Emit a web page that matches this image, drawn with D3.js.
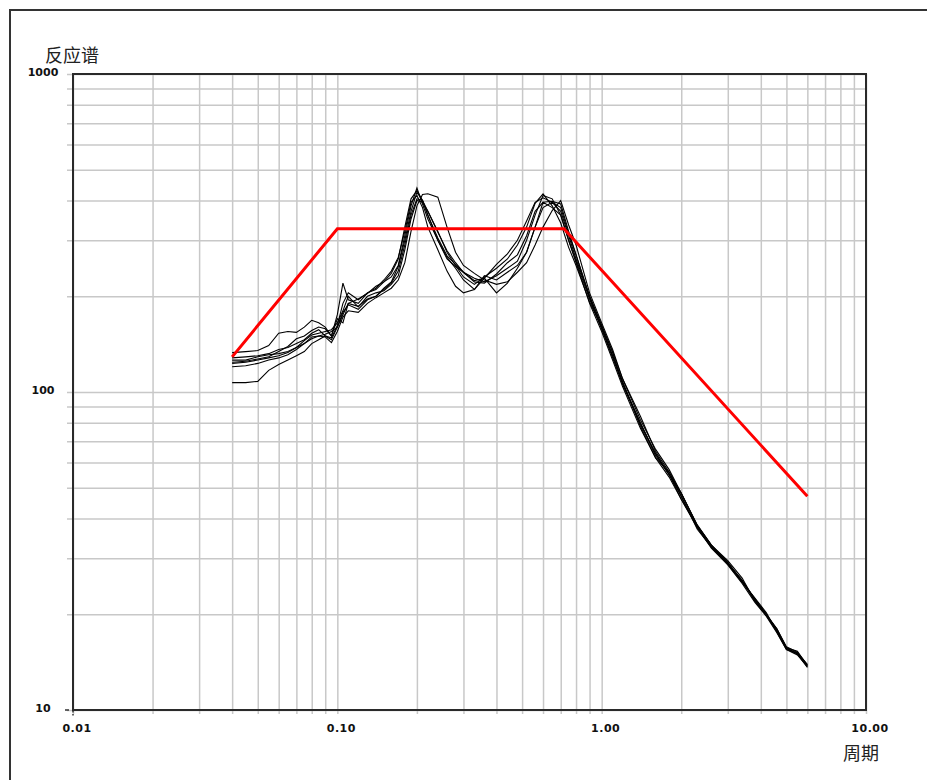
<!DOCTYPE html>
<html>
<head>
<meta charset="utf-8">
<script src="https://cdn.jsdelivr.net/npm/d3@7"></script>
<style>
    body { margin: 0; background: #fff; }
    .tick-label { font-family: "DejaVu Sans", Verdana, sans-serif; font-weight: bold; font-size: 11px; fill: #111; }
    .axis-title { font-family: "Noto Sans CJK SC", sans-serif; font-size: 18px; fill: #222; }
</style>
</head>
<body>
<div id="chart"></div>
<script>
// periods (s) shared by all time-history spectra
const periods = [0.04, 0.045, 0.05, 0.055, 0.06, 0.065, 0.07, 0.075, 0.08, 0.085,
    0.09, 0.095, 0.10, 0.105, 0.11, 0.12, 0.13, 0.14, 0.15, 0.16,
    0.17, 0.18, 0.19, 0.20, 0.21, 0.22, 0.24, 0.26, 0.28, 0.30,
    0.33, 0.36, 0.40, 0.44, 0.48, 0.52, 0.56, 0.60, 0.65, 0.70,
    0.75, 0.80, 0.90, 1.0, 1.1, 1.2, 1.4, 1.6, 1.8, 2.0,
    2.3, 2.6, 3.0, 3.4, 3.8, 4.2, 4.6, 5.0, 5.5, 6.0];

// response spectra of each record
const record1 = [107, 107, 108, 117, 122, 126, 130, 134, 142, 146, 150, 146, 160, 175, 190, 186, 196, 200, 212, 222,
    248, 300, 370, 425, 400, 360, 300, 265, 245, 225, 210, 232, 225, 238, 250, 275, 330, 380, 395, 370,
    310, 262, 200, 162, 133, 106, 80, 64, 55, 47, 37.5, 32.5, 29, 25.5, 22.3, 20, 17.8, 15.7, 15, 13.8];
const record2 = [133, 134, 135, 140, 153, 155, 154, 160, 168, 165, 160, 150, 175, 220, 195, 190, 205, 210, 222, 230,
    250, 310, 385, 438, 390, 350, 300, 262, 248, 238, 228, 222, 232, 245, 258, 300, 360, 415, 405, 360,
    300, 258, 196, 158, 130, 108, 78, 62, 56, 48, 38, 33, 29.5, 26, 22, 19.8, 18, 15.8, 15.2, 13.9];
const record3 = [126, 126, 129, 131, 132, 134, 138, 142, 149, 150, 149, 143, 155, 172, 180, 178, 190, 198, 205, 212,
    225, 255, 320, 385, 418, 420, 410, 330, 275, 250, 236, 225, 218, 222, 238, 255, 290, 330, 372, 400,
    335, 290, 205, 165, 136, 110, 82, 66, 57, 48, 38, 33, 29, 25.3, 22.5, 20.2, 17.6, 15.5, 15.1, 13.7];
const record4 = [123, 124, 126, 128, 130, 133, 138, 145, 151, 153, 155, 157, 165, 180, 200, 185, 200, 205, 208, 218,
    232, 280, 350, 400, 395, 370, 320, 275, 250, 230, 218, 230, 245, 262, 290, 330, 392, 420, 385, 340,
    285, 250, 192, 160, 130, 107, 80, 63, 55, 46, 37.8, 32.8, 28.8, 25.6, 22.2, 20, 18, 15.7, 15.3, 13.8];
const record5 = [128, 129, 130, 132, 136, 138, 142, 146, 153, 157, 150, 148, 162, 190, 205, 195, 205, 212, 225, 240,
    265, 320, 395, 415, 380, 330, 280, 240, 215, 205, 210, 228, 205, 220, 245, 275, 330, 395, 398, 390,
    320, 270, 200, 162, 134, 110, 84, 65, 56, 47, 37, 32.5, 28.7, 25.2, 22.4, 19.8, 17.7, 15.6, 15, 13.6];
const record6 = [120, 121, 123, 126, 128, 131, 136, 142, 147, 150, 152, 155, 160, 178, 188, 182, 195, 200, 210, 220,
    240, 290, 360, 405, 400, 370, 318, 278, 255, 238, 224, 228, 252, 272, 300, 345, 395, 408, 395, 380,
    315, 270, 198, 158, 128, 106, 79, 64, 55, 48, 38.2, 33, 29.2, 25.4, 22, 19.9, 17.9, 15.6, 15.1, 13.9];
const record7 = [124, 125, 127, 129, 134, 139, 147, 150, 156, 160, 158, 150, 170, 165, 190, 196, 204, 215, 222, 236,
    262, 330, 405, 430, 400, 360, 305, 268, 252, 238, 222, 220, 235, 255, 270, 310, 370, 395, 380, 360,
    300, 255, 190, 155, 126, 104, 77, 62, 54, 46, 37.4, 32.3, 28.6, 25, 21.8, 19.7, 17.5, 15.5, 14.9, 13.7];
const records = [record1, record2, record3, record4, record5, record6, record7];

// design (code) spectrum
const designPeriods = [0.04, 0.10, 0.72, 6.0];
const designValues = [129, 326, 326, 47];

// axis tick labels
const xTickValues = [0.01, 0.1, 1, 10];
const xTickLabels = ["0.01", "0.10", "1.00", "10.00"];
const yTickValues = [10, 100, 1000];
const yTickLabels = ["10", "100", "1000"];
const xTitle = "周期";
const yTitle = "反应谱";

let margin = { left: 73, top: 74, right: 866, bottom: 710 };

let svg = d3.select("#chart").append("svg")
    .attr("width", 927)
    .attr("height", 780);

// outer frame
svg.append("rect")
    .attr("x", 10).attr("y", 10)
    .attr("width", 940).attr("height", 800)
    .attr("fill", "none")
    .attr("stroke", "#333")
    .attr("stroke-width", 2);

let x = d3.scaleLog().domain([0.01, 10]).range([margin.left, margin.right]);
let y = d3.scaleLog().domain([10, 1000]).range([margin.bottom, margin.top]);

// grid values: every 1..9 in each decade
let xGridVals = [];
[0.01, 0.1, 1].forEach(d => { for (let k = 1; k <= 9; k++) xGridVals.push(d * k); });
xGridVals.push(10);
let yGridVals = [];
[10, 100].forEach(d => { for (let k = 1; k <= 9; k++) yGridVals.push(d * k); });
yGridVals.push(1000);

// vertical grid (drawn via axis, poking slightly below the frame)
let xGrid = svg.append("g")
    .attr("transform", "translate(0," + (margin.bottom + 4) + ")")
    .call(d3.axisBottom(x).tickValues(xGridVals).tickSize(-(margin.bottom + 4 - margin.top)).tickFormat(""));
xGrid.select(".domain").remove();
xGrid.selectAll("line").attr("stroke", "#c8c8c8").attr("stroke-width", 1.5);

// horizontal grid
let yGrid = svg.append("g")
    .attr("transform", "translate(" + (margin.left - 6) + ",0)")
    .call(d3.axisLeft(y).tickValues(yGridVals).tickSize(-(margin.right - margin.left + 6)).tickFormat(""));
yGrid.select(".domain").remove();
yGrid.selectAll("line").attr("stroke", "#c8c8c8").attr("stroke-width", 1.5);

// plot frame
svg.append("rect")
    .attr("x", margin.left).attr("y", margin.top)
    .attr("width", margin.right - margin.left)
    .attr("height", margin.bottom - margin.top)
    .attr("fill", "none")
    .attr("stroke", "#2a2a2a")
    .attr("stroke-width", 2);

// small dark ticks at the origin
svg.append("line")
    .attr("x1", x(0.01)).attr("x2", x(0.01))
    .attr("y1", y(10) + 1).attr("y2", y(10) + 6)
    .attr("stroke", "#333").attr("stroke-width", 1.5).attr("stroke-dasharray", "1.5,1.5");
svg.append("line")
    .attr("x1", x(0.01) - 8).attr("x2", x(0.01) - 4)
    .attr("y1", y(10)).attr("y2", y(10))
    .attr("stroke", "#333").attr("stroke-width", 1.5);

// tick labels
svg.selectAll(".x-label")
    .data(xTickValues)
    .enter().append("text")
    .attr("class", "tick-label x-label")
    .attr("x", d => x(d) + 4)
    .attr("y", margin.bottom + 22)
    .attr("text-anchor", "middle")
    .style("letter-spacing", "0.5px")
    .text((d, i) => xTickLabels[i]);

svg.selectAll(".y-label")
    .data(yTickValues)
    .enter().append("text")
    .attr("class", "tick-label y-label")
    .attr("x", 43)
    .attr("y", d => y(d) + 2)
    .attr("text-anchor", "middle")
    .text((d, i) => yTickLabels[i]);

// axis titles
svg.append("text")
    .attr("class", "axis-title")
    .attr("x", 45).attr("y", 62)
    .text(yTitle);
svg.append("text")
    .attr("class", "axis-title")
    .attr("x", 843).attr("y", 760)
    .text(xTitle);

// spectra
let line = d3.line()
    .x(d => x(d[0]))
    .y(d => y(d[1]));

svg.selectAll(".record")
    .data(records)
    .enter().append("path")
    .attr("class", "record")
    .attr("d", r => line(periods.map((p, i) => [p, r[i]])))
    .attr("fill", "none")
    .attr("stroke", "#000")
    .attr("stroke-width", 1.1)
    .attr("stroke-linejoin", "miter");

svg.append("path")
    .attr("d", line(designPeriods.map((p, i) => [p, designValues[i]])))
    .attr("fill", "none")
    .attr("stroke", "#ff0000")
    .attr("stroke-width", 3);
</script>
</body>
</html>
